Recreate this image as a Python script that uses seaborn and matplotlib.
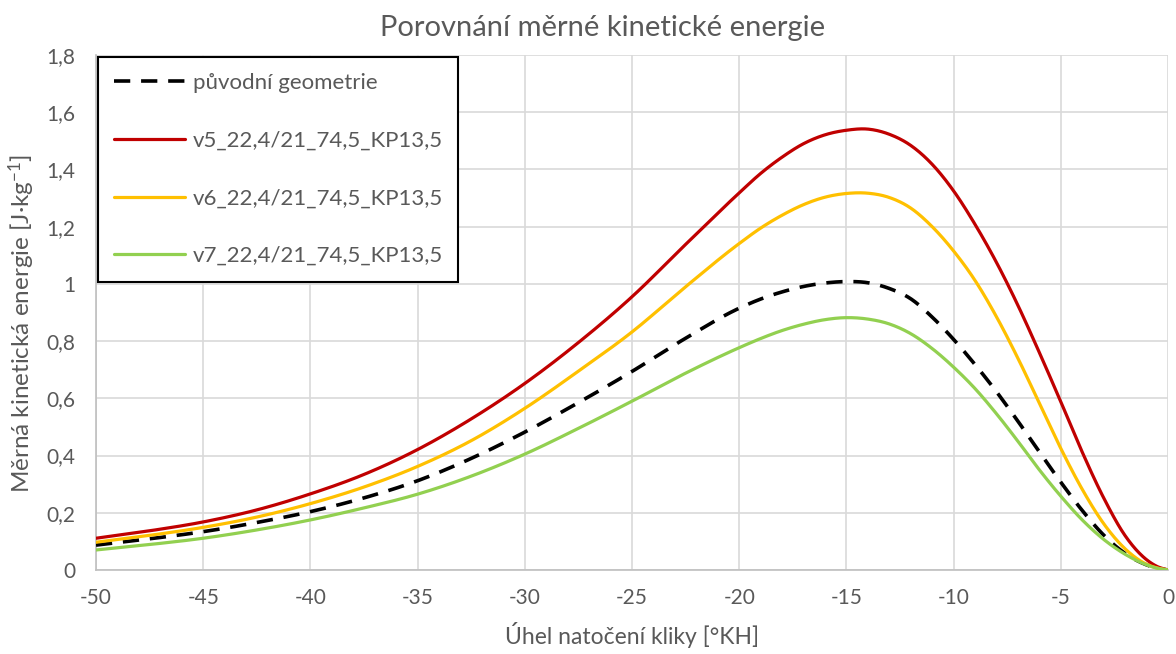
import matplotlib
matplotlib.use("Agg")
import matplotlib.pyplot as plt
from matplotlib.ticker import FuncFormatter, MultipleLocator
import numpy as np
import pandas as pd
import seaborn as sns

# Crank angle [°KH]
angle = [-50, -47.5, -45, -42.5, -40, -37.5, -35, -32.5, -30, -27.5, -25, -22.5,
         -20, -19, -18, -17, -16, -15, -14, -13, -12, -11, -10,
         -9, -8, -7, -6, -5, -4, -3, -2, -1, -0.5, 0]

# Specific kinetic energy [J/kg]
orig = [0.087, 0.109, 0.134, 0.166, 0.204, 0.252, 0.312, 0.390, 0.482, 0.585, 0.694, 0.810,
        0.915, 0.947, 0.972, 0.991, 1.003, 1.008, 1.004, 0.984, 0.948, 0.884, 0.806,
        0.718, 0.623, 0.520, 0.413, 0.307, 0.208, 0.122, 0.058, 0.018, 0.006, 0.0]
v5 = [0.111, 0.137, 0.168, 0.210, 0.266, 0.334, 0.421, 0.528, 0.652, 0.795, 0.955, 1.138,
      1.318, 1.386, 1.443, 1.490, 1.521, 1.537, 1.541, 1.523, 1.484, 1.418, 1.325,
      1.208, 1.075, 0.925, 0.760, 0.588, 0.412, 0.252, 0.120, 0.036, 0.012, 0.0]
v6 = [0.097, 0.121, 0.149, 0.185, 0.232, 0.290, 0.362, 0.452, 0.565, 0.695, 0.832, 0.990,
      1.141, 1.195, 1.240, 1.277, 1.303, 1.316, 1.317, 1.302, 1.265, 1.200, 1.115,
      1.012, 0.885, 0.740, 0.583, 0.425, 0.282, 0.162, 0.074, 0.020, 0.007, 0.0]
v7 = [0.070, 0.089, 0.111, 0.140, 0.175, 0.217, 0.265, 0.328, 0.405, 0.495, 0.590, 0.688,
      0.777, 0.809, 0.837, 0.859, 0.875, 0.882, 0.877, 0.860, 0.826, 0.774, 0.709,
      0.634, 0.546, 0.450, 0.350, 0.258, 0.175, 0.107, 0.055, 0.018, 0.006, 0.0]

labels = ["původní geometrie", "v5_22,4/21_74,5_KP13,5",
          "v6_22,4/21_74,5_KP13,5", "v7_22,4/21_74,5_KP13,5"]
series = [orig, v5, v6, v7]
colors = ["#000000", "#C00000", "#FFC000", "#92D050"]


def smooth_line(xs, ys, n=30):
    """Smoothed-line rendering: cubic Hermite through every measured point."""
    x = np.asarray(xs, float)
    y = np.asarray(ys, float)
    h = np.diff(x)
    d = np.diff(y) / h
    m = np.empty_like(y)
    m[0], m[-1] = d[0], d[-1]
    m[1:-1] = (d[1:] * h[:-1] + d[:-1] * h[1:]) / (h[:-1] + h[1:])
    ox, oy = [], []
    t = np.linspace(0, 1, n, endpoint=False)
    for i in range(len(x) - 1):
        h00 = 2 * t ** 3 - 3 * t ** 2 + 1
        h10 = t ** 3 - 2 * t ** 2 + t
        h01 = -2 * t ** 3 + 3 * t ** 2
        h11 = t ** 3 - t ** 2
        ox.extend(x[i] + t * h[i])
        oy.extend(h00 * y[i] + h10 * h[i] * m[i] + h01 * y[i + 1] + h11 * h[i] * m[i + 1])
    ox.append(x[-1])
    oy.append(y[-1])
    return np.array(ox), np.array(oy)


sns.set_style("white")
plt.rcParams["font.family"] = ["Lato", "DejaVu Sans"]
plt.rcParams["axes.unicode_minus"] = False
plt.rcParams["mathtext.default"] = "regular"

text_col = "#595959"
grid_col = "#d9d9d9"

fig = plt.figure(figsize=(11.76, 6.54), dpi=100)
ax = fig.add_axes([96 / 1176, 1 - 570 / 654, (1168 - 96) / 1176, (570 - 55) / 654])

for i, (lab, vals, col) in enumerate(zip(labels, series, colors)):
    sx, sy = smooth_line(angle, vals)
    curve = pd.DataFrame({"angle": sx, "energy": sy})
    kw = dict(linewidth=2.3)
    if i == 0:
        kw = dict(linewidth=2.6, dashes=(4.5, 3.0))
    sns.lineplot(data=curve, x="angle", y="energy", color=col, ax=ax, label=lab,
                 sort=False, estimator=None, zorder=3 + i, **kw)

ax.set_xlim(-50, 0)
ax.set_ylim(0, 1.8)
ax.xaxis.set_major_locator(MultipleLocator(5))
ax.yaxis.set_major_locator(MultipleLocator(0.2))
ax.xaxis.set_major_formatter(FuncFormatter(lambda v, p: f"{v:.0f}"))


def comma_fmt(v, p):
    s = f"{v:.1f}".rstrip("0").rstrip(".")
    return s.replace(".", ",")


ax.yaxis.set_major_formatter(FuncFormatter(comma_fmt))
ax.grid(True, color=grid_col, linewidth=1.2)
ax.set_axisbelow(True)
for s in ["top", "right"]:
    ax.spines[s].set_visible(False)
for s in ["left", "bottom"]:
    ax.spines[s].set_color("#bfbfbf")
    ax.spines[s].set_linewidth(1.2)
ax.tick_params(axis="both", colors="#bfbfbf", labelcolor=text_col, labelsize=15,
               length=5, width=1.2, direction="out")
ax.tick_params(axis="x", pad=8)
ax.tick_params(axis="y", pad=10)

ax.set_xlabel("Úhel natočení kliky [°KH]", fontsize=16.5, color=text_col, labelpad=10)
ax.set_ylabel("Měrná kinetická energie [J·kg$^{-1}$]", fontsize=17.5, color=text_col)
ax.yaxis.set_label_coords(-0.055, 0.478)
fig.text(603 / 1176, 1 - 28 / 654, "Porovnání měrné kinetické energie",
         ha="center", va="center", fontsize=21, color=text_col)

leg = ax.legend(loc="upper left", bbox_to_anchor=(0.0, 1.0), frameon=True, fancybox=False,
                fontsize=16, handlelength=3.2, handletextpad=0.35, labelspacing=1.7,
                borderpad=0.7, borderaxespad=0.1, labelcolor=text_col)
leg.get_frame().set_edgecolor("#000000")
leg.get_frame().set_linewidth(1.5)
leg.get_frame().set_alpha(1)

fig.savefig("out.png", dpi=100)
